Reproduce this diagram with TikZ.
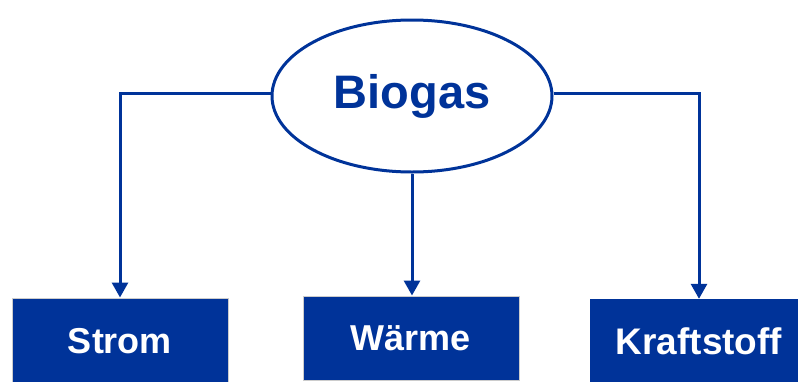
\documentclass[tikz,border=0pt]{standalone}
\usepackage{fontspec}
\setmainfont{Liberation Sans}
\usetikzlibrary{shapes.geometric,arrows.meta,positioning}

\definecolor{gasBlue}{RGB}{0,51,153}

\tikzset{
  useBox/.style={rectangle,fill=gasBlue,text=white,font=\bfseries\fontsize{36}{40}\selectfont,
    minimum width=216pt,minimum height=86pt,inner sep=0pt},
  flowArrow/.style={draw=gasBlue,line width=3pt,-{Triangle[width=16pt,length=15pt]}}
}

\begin{document}
\begin{tikzpicture}[x=1pt,y=-1pt]
  \useasboundingbox (0,0) rectangle (798,381);
  \clip (0,0) rectangle (798,381);
  % Source
  \node[ellipse,draw=gasBlue,line width=3pt,minimum width=280pt,minimum height=152pt,inner sep=0pt,
    text=gasBlue,font=\bfseries\fontsize{47}{52}\selectfont] (biogas) at (412,96) {Biogas};
  % Uses
  \node[useBox,draw=gray!40,line width=1pt] (strom) at (120,341) {Strom};
  \node[useBox,draw=gray!40,line width=1pt,minimum height=84pt] (waerme) at (411,338) {Wärme};
  \node[useBox,minimum width=218pt,minimum height=84pt,font=\bfseries\fontsize{37}{40}\selectfont] (kraft) at (699,341) {Kraftstoff};
  % Arrows
  \draw[flowArrow] ([yshift=3pt]biogas.west) -| (strom.north);
  \draw[flowArrow] (biogas.south) -- (biogas.south |- waerme.north);
  \draw[flowArrow] ([yshift=3pt]biogas.east) -| (kraft.north);
\end{tikzpicture}
\end{document}
